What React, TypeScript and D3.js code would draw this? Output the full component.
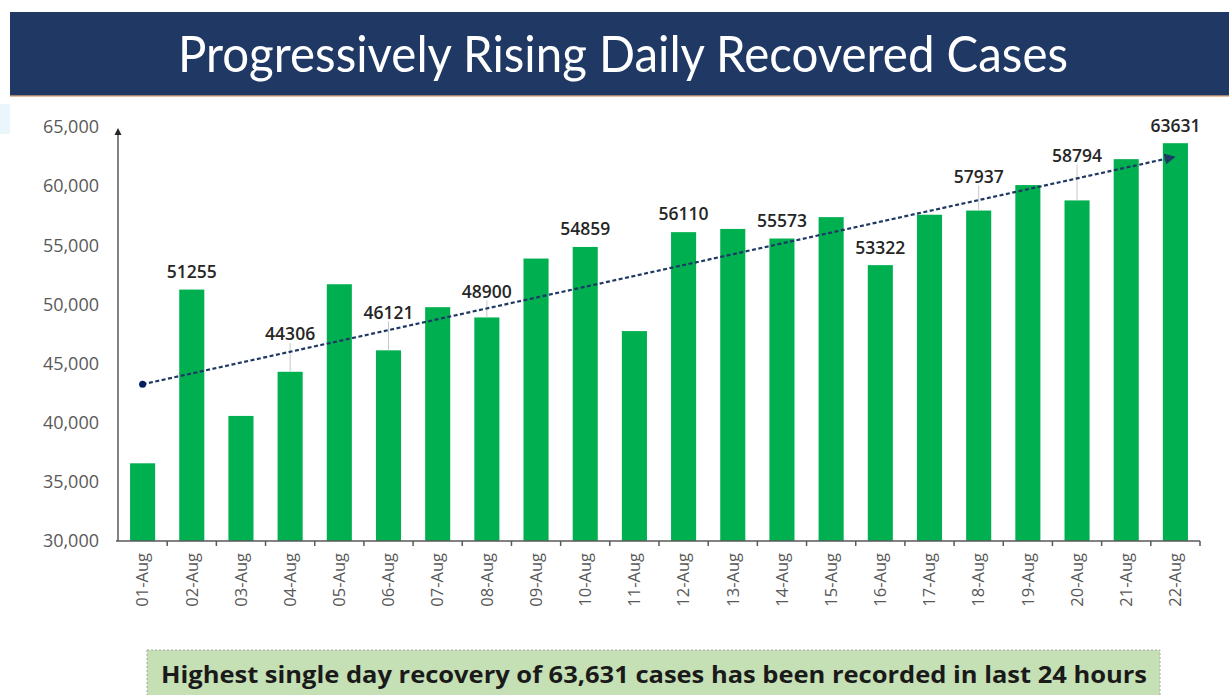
import React from 'react';
import * as d3 from 'd3';

// days shown on the x axis
const days = [
  '01-Aug', '02-Aug', '03-Aug', '04-Aug', '05-Aug', '06-Aug', '07-Aug', '08-Aug',
  '09-Aug', '10-Aug', '11-Aug', '12-Aug', '13-Aug', '14-Aug', '15-Aug', '16-Aug',
  '17-Aug', '18-Aug', '19-Aug', '20-Aug', '21-Aug', '22-Aug',
];

// daily recovered cases
const recovered = [
  36569, 51255, 40574, 44306, 51706, 46121, 49769, 48900,
  53879, 54859, 47746, 56110, 56383, 55573, 57381, 53322,
  57584, 57937, 60091, 58794, 62282, 63631,
];

// bars that carry a value label
const labeledDays = ['02-Aug', '04-Aug', '06-Aug', '08-Aug', '10-Aug', '12-Aug', '14-Aug', '16-Aug', '18-Aug', '20-Aug', '22-Aug'];

const yTicks = [30000, 35000, 40000, 45000, 50000, 55000, 60000, 65000];

// trend line end values (first day -> last day)
const trendStart = 43250;
const trendEnd = 62450;

const title = 'Progressively Rising Daily Recovered Cases';
const footnote = 'Highest single day recovery of 63,631 cases has been recorded in last 24 hours';

const W = 1229;
const H = 695;

const App: React.FC = () => {
  const margin = { left: 118, right: 1200, top: 127, bottom: 541 };

  const x = d3.scaleBand<string>()
    .domain(days)
    .range([margin.left, margin.right])
    .paddingInner(0.49)
    .paddingOuter(0.245);

  const y = d3.scaleLinear()
    .domain([30000, 65000])
    .range([margin.bottom, margin.top]);

  const step = x.step();
  const bw = x.bandwidth();
  const cx = (d: string) => (x(d) ?? 0) + bw / 2;
  const fmt = d3.format(',');

  // how far (px) each value label sits above its bar
  const labelLift: { [k: string]: number } = {
    '02-Aug': 18, '04-Aug': 38, '06-Aug': 38, '08-Aug': 26, '10-Aug': 18, '12-Aug': 18,
    '14-Aug': 18, '16-Aug': 17, '18-Aug': 34, '20-Aug': 45, '22-Aug': 17,
  };

  const trendData: [number, number][] = [
    [cx(days[0]), y(trendStart)],
    [cx(days[days.length - 1]) - 2, y(trendEnd)],
  ];
  const line = d3.line();

  const axisColor = '#595959';

  return (
    <div style={{ position: 'absolute', left: 0, top: 0 }}>
      <svg width={W} height={H} style={{ display: 'block', background: '#fff' }}>
        <defs>
          <marker id="arrow" viewBox="0 0 10 10" refX="8" refY="5" markerWidth="5" markerHeight="5" orient="auto">
            <path d="M0,0 L10,5 L0,10 z" fill="#1f3864" />
          </marker>
        </defs>

        {/* slide edge artefact */}
        <rect x={0} y={104} width={10} height={30} fill="#eaf5fc" />

        {/* title banner */}
        <rect x={10} y={12} width={W - 10} height={84} fill="#1f3864" />
        <rect x={10} y={95} width={W - 10} height={2} fill="#d9a47a" opacity={0.7} />
        <text
          x={623} y={72} textAnchor="middle" fill="#fff"
          fontFamily="Lato, 'Open Sans', sans-serif" fontSize={51}
          textLength={890} lengthAdjust="spacingAndGlyphs"
        >{title}</text>

        {/* y tick labels */}
        {yTicks.map(t => (
          <text key={t} x={99} y={y(t)} dy="0.35em" textAnchor="end" fill={axisColor}
            fontFamily="'Open Sans', sans-serif" fontSize={18}>{fmt(t)}</text>
        ))}

        {/* bars */}
        {days.map((d, i) => (
          <rect key={d} x={x(d)} y={y(recovered[i])} width={bw} height={y(30000) - y(recovered[i])} fill="#00b050" />
        ))}

        {/* value labels with leader lines */}
        {labeledDays.map(d => {
          const i = days.indexOf(d);
          const top = y(recovered[i]);
          const lift = labelLift[d] ?? 18;
          const ly = top - lift;
          return (
            <g key={d}>
              {lift > 24 && (
                <line x1={cx(d)} x2={cx(d)} y1={ly + 9} y2={top} stroke="#c8c8c8" strokeWidth={1} />
              )}
              <text x={cx(d)} y={ly} dy="0.36em" textAnchor="middle" fill="#262626"
                fontFamily="'Open Sans', sans-serif" fontWeight={600} fontSize={17.5}>{recovered[i]}</text>
            </g>
          );
        })}

        {/* trend line */}
        <path d={line(trendData) ?? ''} fill="none" stroke="#1f3864" strokeWidth={2.2}
          strokeDasharray="4,2.5" markerEnd="url(#arrow)" />
        <circle cx={trendData[0][0]} cy={trendData[0][1]} r={3.5} fill="#002060" />

        {/* axes */}
        <line x1={margin.left} x2={margin.left} y1={y(30000)} y2={margin.top + 6} stroke={axisColor} strokeWidth={1.5} />
        <path d={`M${margin.left - 3.5},${margin.top + 8} L${margin.left},${margin.top + 1} L${margin.left + 3.5},${margin.top + 8} z`} fill="#262626" />
        <line x1={margin.left - 2} x2={margin.right} y1={y(30000)} y2={y(30000)} stroke={axisColor} strokeWidth={1.5} />
        {days.map(d => (
          <line key={d} x1={(x(d) ?? 0) + bw + (step - bw) / 2} x2={(x(d) ?? 0) + bw + (step - bw) / 2}
            y1={y(30000)} y2={y(30000) + 5} stroke={axisColor} strokeWidth={1.5} />
        ))}

        {/* x tick labels */}
        {days.map(d => (
          <text key={d} transform={`translate(${cx(d)},553) rotate(-90)`} textAnchor="end" dy="0.35em"
            fill={axisColor} fontFamily="'Open Sans', sans-serif" fontSize={16.5}>{d}</text>
        ))}

        {/* footnote banner */}
        <rect x={147} y={650} width={1013} height={60} fill="#c5e0b4" stroke="#a6a6a6" strokeWidth={1} strokeDasharray="2,2" />
        <text x={654} y={683} textAnchor="middle" fill="#1a1a1a"
          fontFamily="'Open Sans', sans-serif" fontWeight={700} fontSize={24}
          textLength={986} lengthAdjust="spacingAndGlyphs">{footnote}</text>
      </svg>
    </div>
  );
};

export default App;
